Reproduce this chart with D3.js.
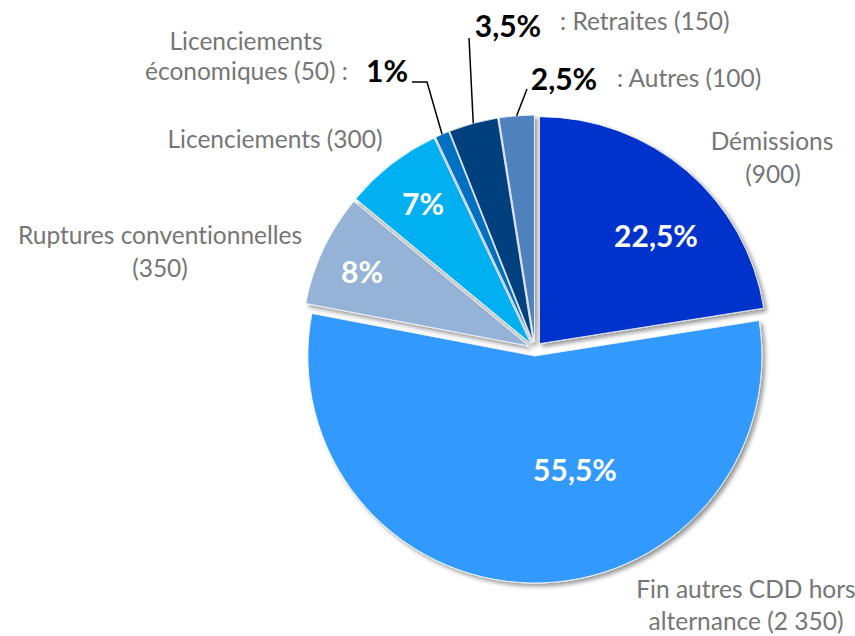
<!DOCTYPE html>
<html>
<head>
<meta charset="utf-8">
<script src="https://cdn.jsdelivr.net/npm/d3@7"></script>
<style>
  html, body { margin: 0; padding: 0; background: #fff; }
  svg { display: block; }
</style>
</head>
<body>
<svg id="chart" width="855" height="636"></svg>
<script>
// data
const categories = ["Démissions", "Fin autres CDD hors alternance", "Ruptures conventionnelles",
                    "Licenciements", "Licenciements économiques", "Retraites", "Autres"];
const counts = ["900", "2 350", "350", "300", "50", "150", "100"];
const shares = [22.5, 55.5, 8, 7, 1, 3.5, 2.5];
const shareLabels = ["22,5%", "55,5%", "8%", "7%", "1%", "3,5%", "2,5%"];
const nameLines = [
    ["Démissions", "(900)"],
    ["Fin autres CDD hors", "alternance (2 350)"],
    ["Ruptures conventionnelles", "(350)"],
    ["Licenciements (300)"],
    ["Licenciements", "économiques (50) :"],
    [": Retraites (150)"],
    [": Autres (100)"]
];
const colors = ["#0033cc", "#3399ff", "#95b3d7", "#00b0f0", "#0070c0", "#003f7f", "#4f81bd"];

let svg = d3.select("#chart"),
    cx = 535, cy = 349,
    radius = 227,
    explode = 7;

const FONT = "Lato, 'Open Sans', sans-serif";

let defs = svg.append("defs");
let filter = defs.append("filter")
    .attr("id", "shadow")
    .attr("x", "-20%").attr("y", "-20%")
    .attr("width", "140%").attr("height", "140%");
filter.append("feDropShadow")
    .attr("dx", 3).attr("dy", 3)
    .attr("stdDeviation", 2.2)
    .attr("flood-color", "#000")
    .attr("flood-opacity", 0.4);

let pie = d3.pie().sort(null).value(d => d.share);
let arc = d3.arc().innerRadius(0).outerRadius(radius);

let rows = categories.map((c, i) => ({
    name: c, count: counts[i], share: shares[i], label: shareLabels[i], color: colors[i]
}));
let arcs = pie(rows);

// offset of each slice along its middle angle
const shift = (d) => {
    let a = (d.startAngle + d.endAngle) / 2;
    return [explode * Math.sin(a), -explode * Math.cos(a)];
};

let g = svg.append("g").attr("transform", "translate(" + cx + "," + cy + ")");

g.selectAll(".slice")
    .data(arcs)
    .enter().append("path")
    .attr("class", "slice")
    .attr("transform", d => "translate(" + shift(d) + ")")
    .attr("d", arc)
    .attr("fill", d => d.data.color)
    .attr("stroke", "#ffffff")
    .attr("stroke-width", 0.8)
    .attr("filter", "url(#shadow)");

// percentages inside the big slices (hand placed, as in the original)
const insidePos = [[656, 247], [575, 481], [362, 283], [423, 215]];
insidePos.forEach((p, i) => {
    svg.append("text")
        .attr("x", p[0]).attr("y", p[1])
        .attr("text-anchor", "middle")
        .attr("fill", "#fff")
        .style("font", "bold 30px " + FONT)
        .text(shareLabels[i]);
});

// percentages outside the small slices, with leader lines
const outsidePos = { 4: [387, 82], 5: [508, 37], 6: [564, 90] };
const leaderPts = { 4: [[412, 82], [427, 82]], 5: [[469, 38]], 6: [[527, 89]] };
Object.keys(outsidePos).forEach(k => {
    let i = +k, p = outsidePos[k];
    svg.append("text")
        .attr("x", p[0]).attr("y", p[1])
        .attr("text-anchor", "middle")
        .attr("fill", "#000")
        .style("font", "bold 30px " + FONT)
        .text(shareLabels[i]);
    let d = arcs[i], s = shift(d), a = (d.startAngle + d.endAngle) / 2;
    let end = [cx + s[0] + radius * Math.sin(a), cy + s[1] - radius * Math.cos(a)];
    let pts = leaderPts[k].concat([end]);
    svg.append("path")
        .attr("d", d3.line()(pts))
        .attr("fill", "none")
        .attr("stroke", "#000")
        .attr("stroke-width", 1.5);
});

// category names
const namePos = [
    [{x: 772, y: 150, a: "middle"}, {x: 773, y: 183, a: "middle"}],
    [{x: 746, y: 598, a: "middle"}, {x: 746, y: 630, a: "middle"}],
    [{x: 160, y: 244, a: "middle"}, {x: 160, y: 277, a: "middle"}],
    [{x: 275, y: 148, a: "middle"}],
    [{x: 246, y: 50, a: "middle"}, {x: 348, y: 80, a: "end"}],
    [{x: 560, y: 30, a: "start"}],
    [{x: 617, y: 87, a: "start"}]
];
nameLines.forEach((lines, i) => {
    lines.forEach((t, j) => {
        let p = namePos[i][j];
        svg.append("text")
            .attr("x", p.x).attr("y", p.y)
            .attr("text-anchor", p.a)
            .attr("fill", "#767676")
            .style("font", "24.5px " + FONT)
            .style("font-variant-ligatures", "none")
            .style("font-feature-settings", "'liga' 0, 'dlig' 0")
            .text(t);
    });
});
</script>
</body>
</html>
